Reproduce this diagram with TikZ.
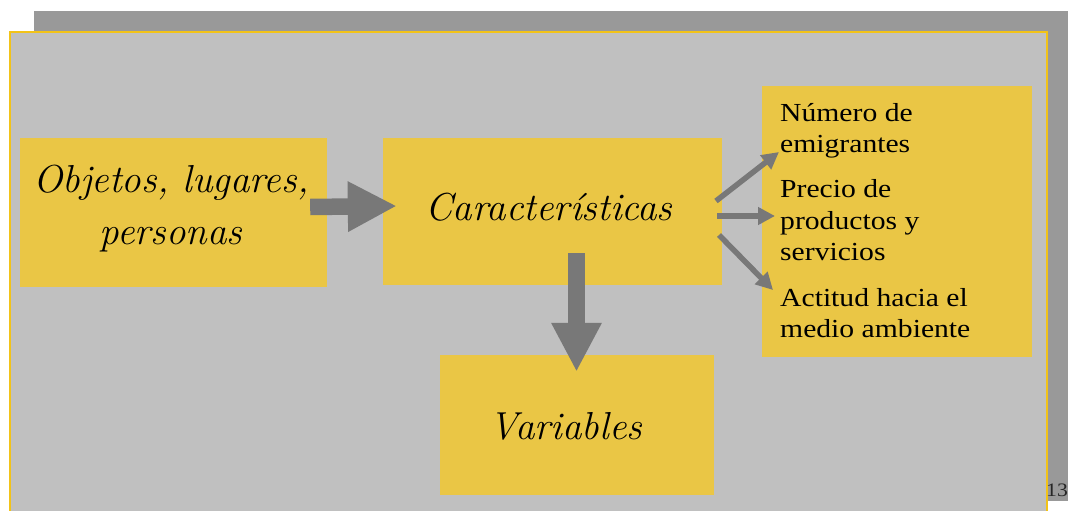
\documentclass[tikz,border=0pt]{standalone}
\usepackage{fontspec}
\setmainfont{Liberation Serif}[FakeStretch=1.14]
\newfontfamily\handfont{Latin Modern Roman}
\usetikzlibrary{arrows.meta,calc}
\definecolor{shadowgray}{HTML}{999999}
\definecolor{panelgray}{HTML}{C0C0C0}
\definecolor{boxyellow}{HTML}{EAC645}
\definecolor{lineyellow}{HTML}{F2C318}
\definecolor{arrowgray}{HTML}{787878}
\tikzset{
  ybox/.style={fill=boxyellow, draw=none, inner sep=0pt},
  hand/.style={font=\handfont\itshape\fontsize{39}{52}\selectfont, align=center},
  item/.style={font=\fontsize{26}{30}\selectfont, anchor=base west, inner sep=0pt},
  bigarrow/.style={draw=arrowgray, line width=16.5pt, -{Triangle[width=47pt,length=49pt]}},
  thinarrow/.style={draw=arrowgray, line width=5.5pt, -{Triangle[width=17pt,length=17pt]}},
}
\begin{document}
\begin{tikzpicture}[x=1pt,y=-1pt]
\useasboundingbox (0,0) rectangle (1068,511);
\clip (0,0) rectangle (1068,511);
% drop shadow and panel
\fill[shadowgray] (34,11) rectangle (1075,501);
\draw[fill=panelgray, draw=lineyellow, line width=1.6pt] (10,32) rectangle (1047,520);
% page number
\node[anchor=base west, inner sep=0pt, font=\fontsize{19}{22}\selectfont, text=black!85] (pg) at (1046,496) {13};
% boxes
\node[ybox, minimum width=307pt, minimum height=149pt] (obj) at (173.5,212.5) {};
\node[hand] (objt) at (171,209) {Objetos, lugares,\\personas};
\node[ybox, minimum width=339pt, minimum height=147pt] (car) at (552.5,211.5) {};
\node[hand] (cart) at (549,207) {Características};
\node[ybox, minimum width=274pt, minimum height=140pt] (var) at (577,425) {};
\node[hand] (vart) at (566,426) {Variables};
\node[ybox, minimum width=270pt, minimum height=271pt] (lst) at (897,221.5) {};
% list entries
\node[item] (n1) at (780,121) {Número de};
\node[item] (n2) at (780,152) {emigrantes};
\node[item] (p1) at (780,197) {Precio de};
\node[item] (p2) at (780,229) {productos y};
\node[item] (p3) at (780,260) {servicios};
\node[item] (a1) at (780,306) {Actitud hacia el};
\node[item] (a2) at (780,337) {medio ambiente};
% arrow anchors
\coordinate (o1) at ($(obj.east)+(-17,-5.5)$);
\coordinate (c1) at ($(car.west)+(14,-5.5)$);
\coordinate (c2) at ($(car.south)+(24,-32)$);
\coordinate (v1) at ($(var.north)+(-0.5,17)$);
\coordinate (cr1) at (716,201);
\coordinate (cr2) at (717,216);
\coordinate (cr3) at (719,235);
\coordinate (l1) at (779,152);
\coordinate (l2) at (775,216);
\coordinate (l3) at (773,290);
% arrows
\draw[bigarrow] (o1) -- (c1);
\draw[bigarrow] (c2) -- (v1);
\draw[thinarrow] (cr1) -- (l1);
\draw[thinarrow] (cr2) -- (l2);
\draw[thinarrow] (cr3) -- (l3);
\end{tikzpicture}
\end{document}
